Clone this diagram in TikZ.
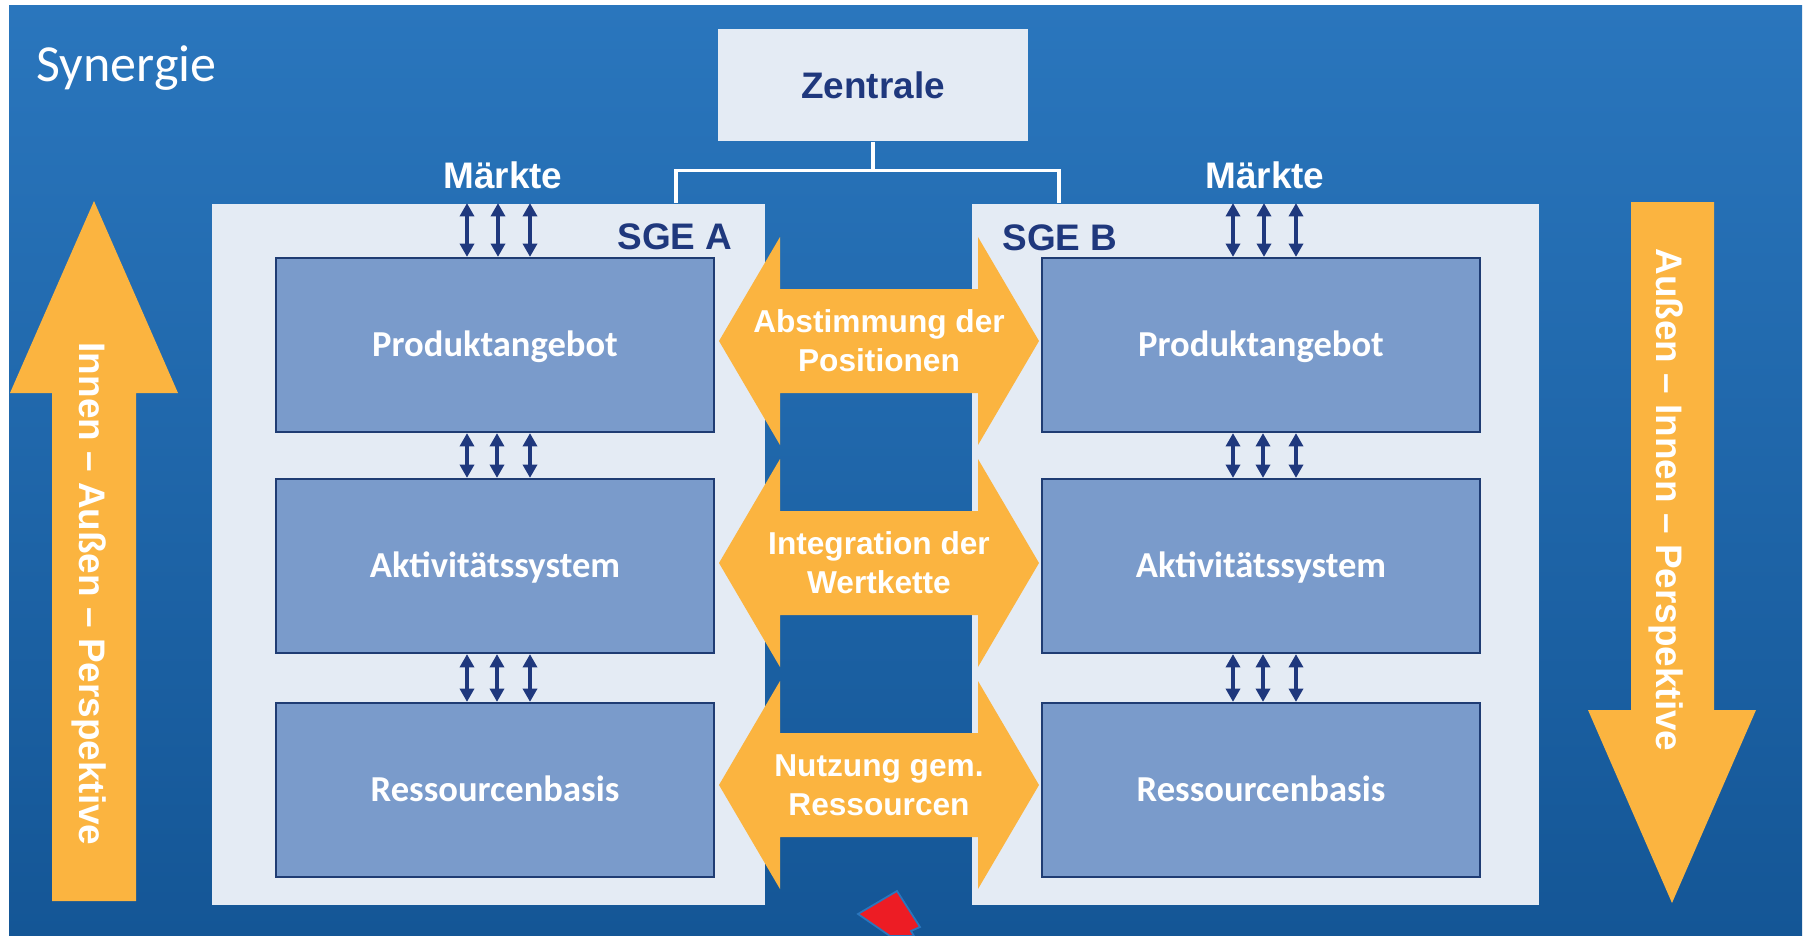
\documentclass[tikz,border=0pt]{standalone}
\usepackage{fontspec}
\setmainfont{Liberation Sans}
\newfontfamily\calfont{Carlito}
\usetikzlibrary{arrows.meta, calc, positioning}

\definecolor{bgtop}{RGB}{42,118,189}
\definecolor{bgbot}{RGB}{20,86,150}
\definecolor{panelfill}{RGB}{228,235,244}
\definecolor{boxfill}{RGB}{122,155,203}
\definecolor{boxline}{RGB}{31,60,115}
\definecolor{navy}{RGB}{31,56,125}
\definecolor{orng}{RGB}{251,180,64}
\definecolor{redptr}{RGB}{237,28,36}

\tikzset{
  panel/.style={fill=panelfill, minimum width=5.53cm, minimum height=7.01cm, inner sep=0pt},
  unit/.style={draw=boxline, line width=0.6pt, fill=boxfill, minimum width=4.38cm,
    minimum height=1.74cm, text=white, font=\calfont\fontsize{10.4}{12}\bfseries,
    text height=6.7pt, text depth=0pt},
  head/.style={font=\fontsize{10.5}{12.6}\selectfont\bfseries},
  tw/.style={{Triangle[width=4pt,length=3.8pt]}-{Triangle[width=4pt,length=3.8pt]},
    line width=1.35pt, draw=navy},
  flow/.style={text=white, align=center, font=\fontsize{9}{11.1}\selectfont\bfseries},
  link/.style={draw=white, line width=1pt}
}

\begin{document}
\begin{tikzpicture}[x=0.01cm, y=-0.01cm]
    \useasboundingbox (0,0) rectangle (1805,936);

    % Background
    \fill[white] (0,0) rectangle (1805,936);
    \shade[top color=bgtop, bottom color=bgbot] (9,5) rectangle (1802,935);
    \node[anchor=base west, inner sep=0pt, text=white, font=\calfont\fontsize{14.8}{17}\selectfont] (title) at (36,81) {Synergie};

    % Zentrale
    \node[fill=panelfill, minimum width=3.1cm, minimum height=1.12cm, text=navy, head] (zent) at (873,85) {Zentrale};

    % SGE panels
    \node[panel] (sgea) at (488.5,554.5) {};
    \node[panel, minimum width=5.67cm] (sgeb) at (1255.5,554.5) {};
    \draw[link] (zent.south) -- ++(0,29) coordinate (bus);
    \draw[link] ($(sgea.north east)+(-90,0)$) |- (bus) -| ($(sgeb.north west)+(88,0)$);
    \node[head, text=navy, anchor=base] (labela) at (675,249) {SGE A};
    \node[head, text=navy, anchor=base] (labelb) at (1060,250) {SGE B};
    \node[head, text=white, anchor=base] (marka) at (503,188) {Märkte};
    \node[head, text=white, anchor=base] (markb) at (1265,188) {Märkte};

    % Units
    \node[unit] (pa) at (495,345) {Produktangebot};
    \node[unit] (aa) at (495,566) {Aktivitätssystem};
    \node[unit] (ra) at (495,790) {Ressourcenbasis};
    \node[unit] (pb) at (1261,345) {Produktangebot};
    \node[unit] (ab) at (1261,566) {Aktivitätssystem};
    \node[unit] (rb) at (1261,790) {Ressourcenbasis};

    % Small arrows
    \foreach \b/\p in {pa/sgea, pb/sgeb}
        \foreach \dx in {-28,3,35} {
            \coordinate (t) at ($(\b.north)+(\dx,0)$);
            \draw[tw] (t) -- (t |- \p.north);
        }
    \foreach \u/\l in {pa/aa, aa/ra, pb/ab, ab/rb}
        \foreach \dx in {-28,2,35} {
            \coordinate (t) at ($(\l.north)+(\dx,0)$);
            \draw[tw] (t |- \u.south) -- (t);
        }

    % Synergy arrows
    \foreach \y in {341,563,785}
        \fill[orng] (719,\y) -- (780,\y-104) -- (780,\y-52) -- (978,\y-52) -- (978,\y-104)
            -- (1039,\y) -- (978,\y+104) -- (978,\y+52) -- (780,\y+52) -- (780,\y+104) -- cycle;
    \node[flow] (abst) at (879,341) {Abstimmung der\\Positionen};
    \node[flow] (integ) at (879,563) {Integration der\\Wertkette};
    \node[flow] (nutz) at (879,785) {Nutzung gem.\\Ressourcen};

    % Perspectives
    \fill[orng] (94,201) -- (178,393) -- (136,393) -- (136,901) -- (52,901) -- (52,393) -- (10,393) -- cycle;
    \node[head, text=white, rotate=-90] (innen) at (89,594) {Innen – Außen – Perspektive};
    \fill[orng] (1631,202) -- (1714,202) -- (1714,710) -- (1756,710) -- (1672,903) -- (1588,710) -- (1631,710) -- cycle;
    \node[head, text=white, rotate=-90] (aussen) at (1666,500) {Außen – Innen – Perspektive};

    % Pointer
    \filldraw[fill=redptr, draw=bgtop, line width=0.5pt] (858,914) -- (897,891) -- (920,927) -- (911,931) -- (914,936) -- (890,936) -- cycle;
\end{tikzpicture}
\end{document}
